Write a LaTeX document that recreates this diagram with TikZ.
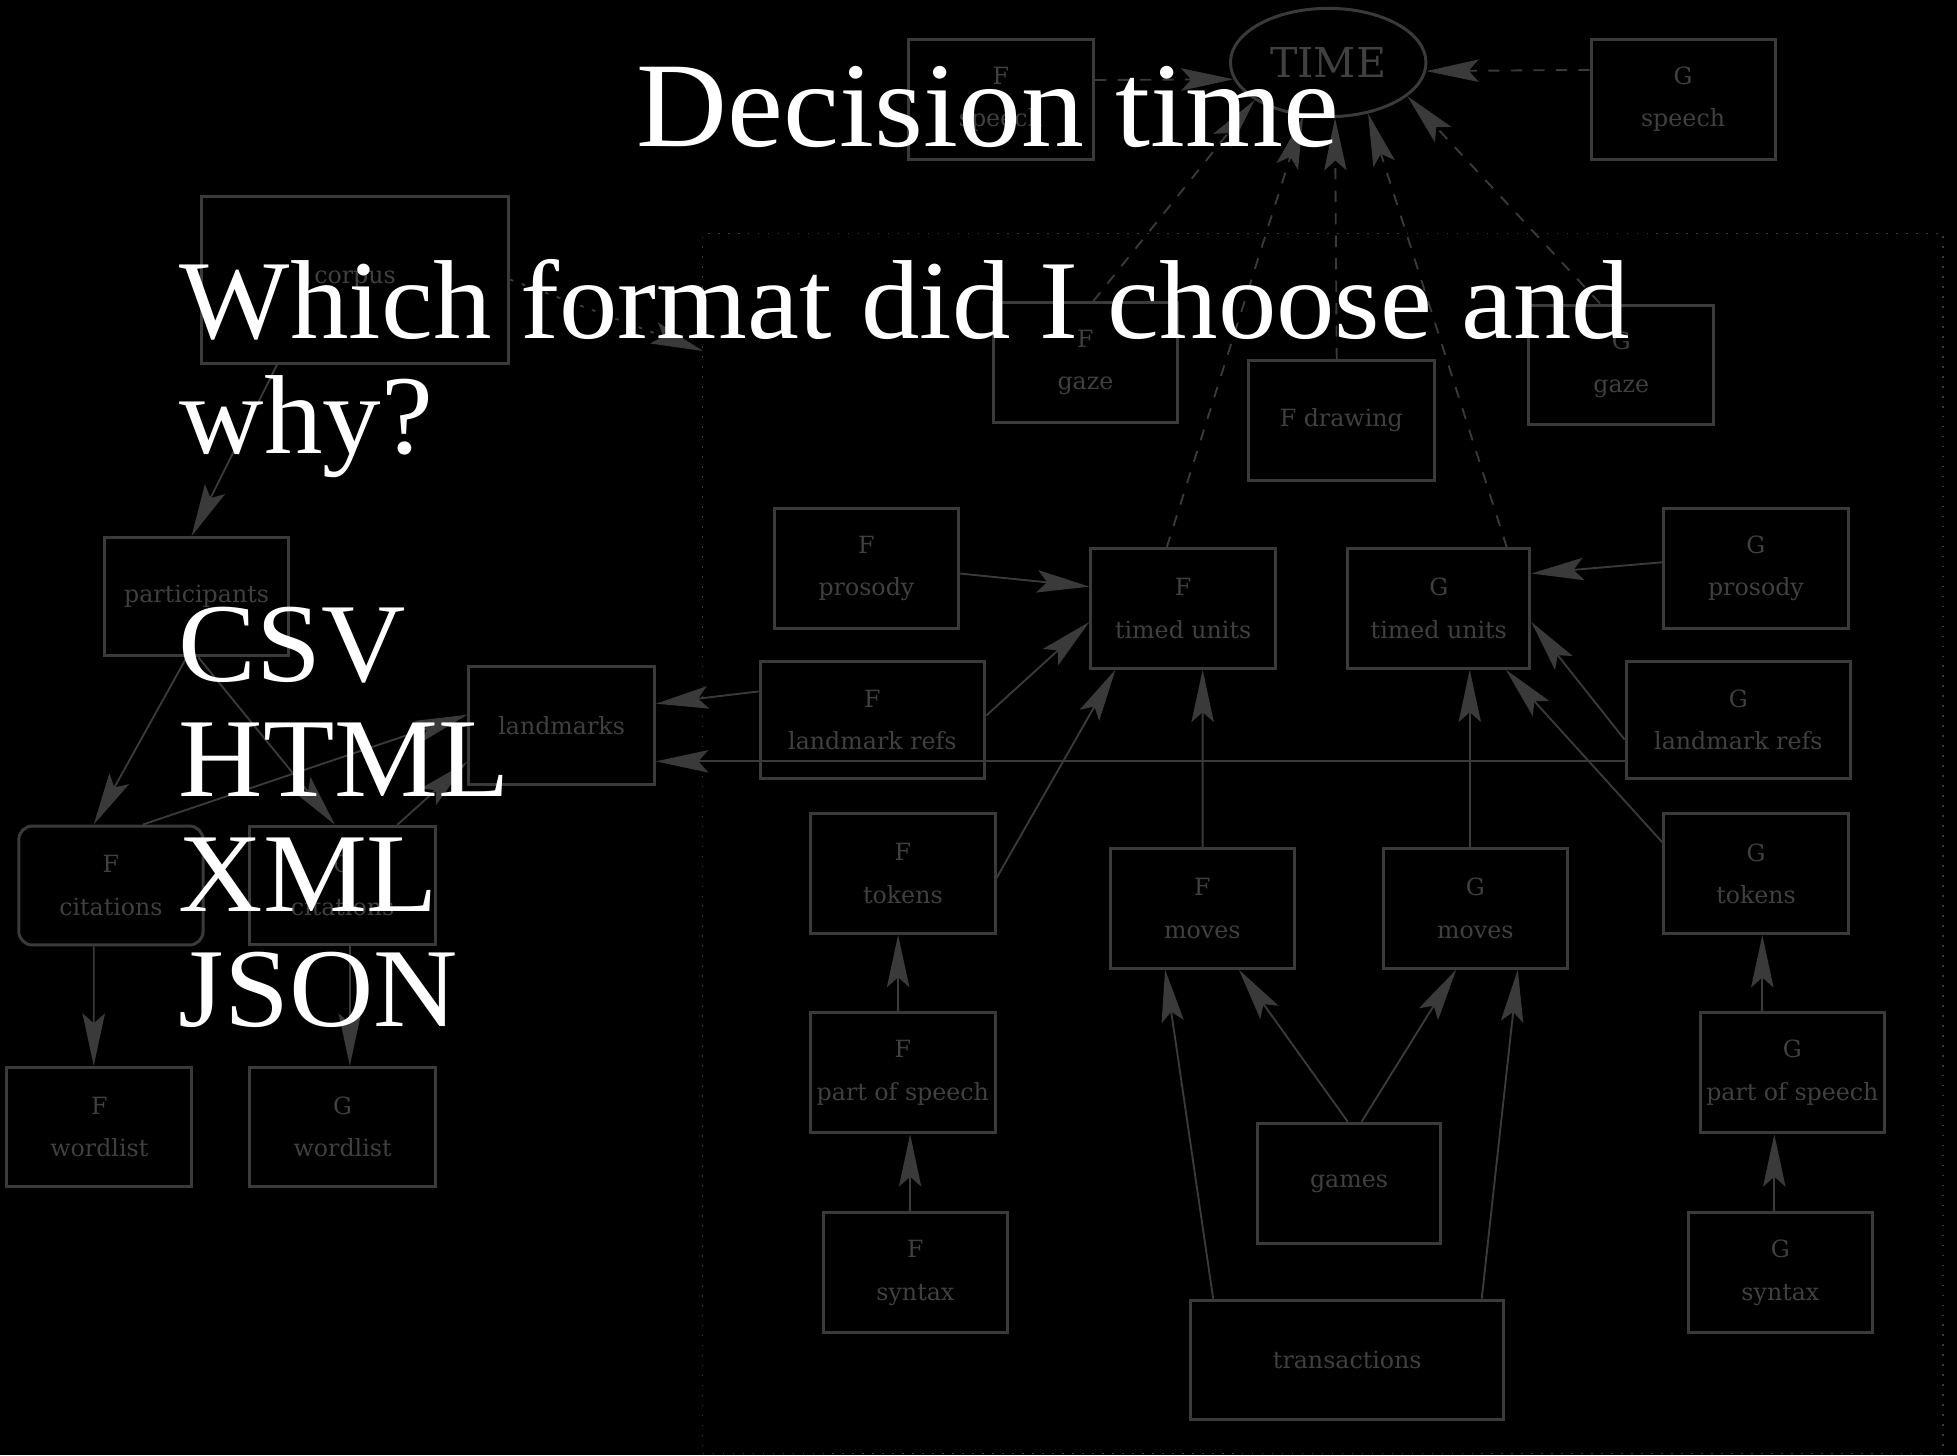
\documentclass[tikz,border=0pt]{standalone}
\usepackage{fontspec}
\setmainfont{Liberation Serif}[FakeStretch=1.04]
\newfontfamily\diagfont{DejaVu Serif}
\usetikzlibrary{arrows.meta,shapes.geometric}
\definecolor{ink}{RGB}{58,58,58}
\definecolor{inktext}{RGB}{64,64,64}

\begin{document}
\begin{tikzpicture}[x=1pt,y=-1pt,
  gbox/.style={draw=ink, line width=2.4pt, text=inktext,
    font=\diagfont\fontsize{19}{34}\selectfont, align=center, inner sep=0pt},
  link/.style={draw=ink, line width=1.5pt,
    -{Stealth[length=42pt,width=18pt,inset=8pt]}},
  dlink/.style={link, dash pattern=on 9pt off 9pt},
  slide/.style={text=white, anchor=base west, inner sep=0pt,
    font=\fontsize{90}{92}\selectfont},
]
% slide background
\fill[black] (0,0) rectangle (1568,1166);

% dotted cluster around the per-speaker layers
\node[draw=ink, line width=1.3pt, dash pattern=on 1.3pt off 6.7pt,
  minimum width=994pt, minimum height=977.5pt, inner sep=0pt] (cluster) at (1060,675.75) {};
\coordinate (clusterin) at (563.4,281.3);

% top row
\node[gbox, minimum width=148.6pt, minimum height=96.2pt] (fspeech) at (801.9,79.6) {F\\speech};
\node[draw=ink, line width=2.4pt, ellipse, minimum width=156.7pt, minimum height=86.8pt,
  inner sep=0pt, text=inktext, font=\diagfont\fontsize{33}{36}\selectfont] (time) at (1064.2,50.1) {TIME};
\node[gbox, minimum width=147.5pt, minimum height=96.2pt] (gspeech) at (1348.5,79.6) {G\\speech};

% corpus side
\node[gbox, minimum width=245.7pt, minimum height=133.9pt] (corpus) at (284.5,224) {corpus};
\node[gbox, minimum width=147.9pt, minimum height=94.8pt] (participants) at (157.5,478.1) {participants};
\node[gbox, minimum width=148.7pt, minimum height=94.2pt] (landmarks) at (450,581.1) {landmarks};
\node[gbox, rounded corners=11pt, minimum width=147.7pt, minimum height=95.3pt] (fcit) at (88.9,709.5) {F\\citations};
\node[gbox, minimum width=148.5pt, minimum height=95pt] (gcit) at (274.5,709.5) {G\\citations};
\node[gbox, minimum width=148.4pt, minimum height=95.7pt] (fword) at (79.6,903) {F\\wordlist};
\node[gbox, minimum width=148.4pt, minimum height=95.7pt] (gword) at (274.5,903) {G\\wordlist};

% inside the cluster
\node[gbox, minimum width=148pt, minimum height=96.2pt] (fgaze) at (869.7,290.6) {F\\gaze};
\node[gbox, minimum width=148.6pt, minimum height=95.6pt] (fdraw) at (1074.7,336.8) {F drawing};
\node[gbox, minimum width=148pt, minimum height=95.6pt] (ggaze) at (1299,292.2) {G\\gaze};
\node[gbox, minimum width=147pt, minimum height=95.9pt] (fpros) at (694.2,455.5) {F\\prosody};
\node[gbox, minimum width=148pt, minimum height=95.6pt] (ftimed) at (948,487.6) {F\\timed units};
\node[gbox, minimum width=145.8pt, minimum height=95.6pt] (gtimed) at (1152.8,487.6) {G\\timed units};
\node[gbox, minimum width=147.8pt, minimum height=95.9pt] (gpros) at (1406.9,455.5) {G\\prosody};
\node[gbox, minimum width=180pt, minimum height=94.2pt] (flmr) at (699,576.9) {F\\landmark refs};
\node[gbox, minimum width=179.9pt, minimum height=94.2pt] (glmr) at (1392.8,576.9) {G\\landmark refs};
\node[gbox, minimum width=147.8pt, minimum height=95.8pt] (ftok) at (723.4,699.9) {F\\tokens};
\node[gbox, minimum width=148pt, minimum height=96pt] (gtok) at (1407,700) {G\\tokens};
\node[gbox, minimum width=147.1pt, minimum height=95.7pt] (fmoves) at (963.4,727.9) {F\\moves};
\node[gbox, minimum width=147.8pt, minimum height=95.7pt] (gmoves) at (1182.1,727.9) {G\\moves};
\node[gbox, minimum width=147.8pt, minimum height=96.2pt] (fpos) at (723.4,859.5) {F\\part of speech};
\node[gbox, minimum width=147pt, minimum height=96.2pt] (gpos) at (1436.1,859.5) {G\\part of speech};
\node[gbox, minimum width=147pt, minimum height=96.2pt] (games) at (1080.9,948.1) {games};
\node[gbox, minimum width=147.1pt, minimum height=96.2pt] (fsyn) at (733.4,1019.8) {F\\syntax};
\node[gbox, minimum width=147pt, minimum height=96.2pt] (gsyn) at (1426.5,1019.8) {G\\syntax};
\node[gbox, minimum width=251pt, minimum height=95.3pt] (trans) at (1079.5,1089.4) {transactions};

% dashed links into TIME
\draw[dlink] ([yshift=15.5pt]fspeech.east) -- (time.190.6);
\draw[dlink] ([yshift=23.6pt]gspeech.west) -- (time.355.6);
\draw[dlink] ([xshift=6.3pt]fgaze.north) -- (time.207);
\draw[dlink] ([xshift=-13.2pt]ftimed.north) -- (time.245.6);
\draw[dlink] ([xshift=-3.7pt]fdraw.north) -- (time.277.9);
\draw[dlink] ([xshift=54.5pt]gtimed.north) -- (time.308.1);
\draw[dlink] ([xshift=-17pt]ggaze.north) -- (time.337.2);

% corpus side links
\draw[link, dash pattern=on 3pt off 7pt] (corpus.east) -- (clusterin);
\draw[link] ([xshift=-62.5pt]corpus.south) -- ([xshift=-4pt]participants.north);
\draw[link] ([xshift=-8pt]participants.south) -- ([xshift=-13.8pt]fcit.north);
\draw[link] ([xshift=1.5pt]participants.south) -- ([xshift=-6.2pt]gcit.north);
\draw[link] ([xshift=-13.8pt]fcit.south) -- ([xshift=-4.5pt]fword.north);
\draw[link] ([xshift=5.8pt]gcit.south) -- ([xshift=5.8pt]gword.north);
\draw[link] ([xshift=25.6pt]fcit.north) -- ([yshift=8.4pt]landmarks.west);
\draw[link] ([xshift=43.9pt]gcit.north) -- ([yshift=-29.2pt]landmarks.west);
\draw[link] ([yshift=22.9pt]flmr.west) -- ([yshift=17.3pt]landmarks.east);
\draw[link] ([yshift=-33.1pt]glmr.west) -- ([yshift=-28.9pt]landmarks.east);

% links into the timed units
\draw[link] ([yshift=-4pt]fpros.east) -- ([yshift=17.6pt]ftimed.west);
\draw[link] ([yshift=3.6pt]flmr.east) -- ([yshift=-10.7pt]ftimed.west);
\draw[link] ([yshift=-3.5pt]ftok.east) -- ([xshift=-54.3pt]ftimed.south);
\draw[link] ([xshift=0.2pt]fmoves.north) -- ([xshift=15.6pt]ftimed.south);
\draw[link] ([yshift=5pt]gpros.west) -- ([yshift=28.1pt]gtimed.east);
\draw[link] ([yshift=-15.6pt]glmr.west) -- ([yshift=-10.7pt]gtimed.east);
\draw[link] ([yshift=25.2pt]gtok.west) -- ([xshift=53.7pt]gtimed.south);
\draw[link] ([xshift=-4.5pt]gmoves.north) -- ([xshift=24.8pt]gtimed.south);

% token chains
\draw[link] ([xshift=-3.8pt]fpos.north) -- ([xshift=-3.8pt]ftok.south);
\draw[link] ([xshift=-4.2pt]fsyn.north) -- ([xshift=5.8pt]fpos.south);
\draw[link] ([xshift=-24.1pt]gpos.north) -- ([xshift=5pt]gtok.south);
\draw[link] ([xshift=-4.9pt]gsyn.north) -- ([xshift=-14.5pt]gpos.south);

% moves
\draw[link] ([xshift=-1pt]games.north) -- ([xshift=29.2pt]fmoves.south);
\draw[link] ([xshift=10pt]games.north) -- ([xshift=-15.4pt]gmoves.south);
\draw[link] ([xshift=-107.5pt]trans.north) -- ([xshift=-29.9pt]fmoves.south);
\draw[link] ([xshift=107.7pt]trans.north) -- ([xshift=34pt]gmoves.south);

% slide text
\node[slide, font=\fontsize{97}{100}\selectfont] (title) at (510,117) {Decision time};
\node[slide] (q1) at (144,271.6) {Which format did I choose and};
\node[slide] (q2) at (144,363.2) {why?};
\node[slide] (csv) at (143,546.2) {CSV};
\node[slide] (html) at (143,638.4) {HTML};
\node[slide] (xml) at (143,730.5) {XML};
\node[slide] (json) at (143,822.7) {JSON};
\end{tikzpicture}
\end{document}
